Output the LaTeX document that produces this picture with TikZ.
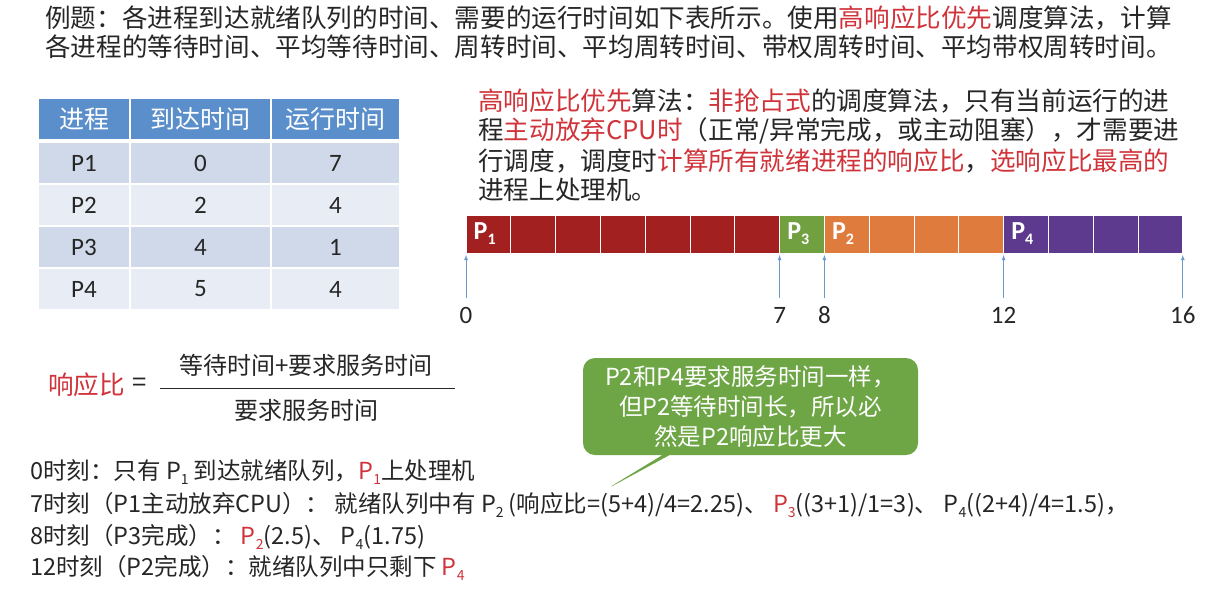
\documentclass[tikz,border=0pt]{standalone}
\usepackage{fontspec}
\setmainfont{Noto Sans CJK SC}
\newfontfamily\latf{Carlito}
\usetikzlibrary{shapes.callouts}
\definecolor{tx}{HTML}{262626}
\definecolor{rd}{HTML}{D0343A}
\definecolor{hd}{HTML}{5B8FCB}
\definecolor{r1}{HTML}{CFD9EA}
\definecolor{r2}{HTML}{E8EDF5}
\definecolor{cp1}{HTML}{A32020}
\definecolor{cp3}{HTML}{70A040}
\definecolor{cp2}{HTML}{E07B3E}
\definecolor{cp4}{HTML}{5E3A8E}
\definecolor{gr}{HTML}{6EA646}
\definecolor{ar}{HTML}{6A9AC8}
\newcommand{\pidx}[1]{\raisebox{-0.35ex}{\fontsize{14}{14}\selectfont #1}}
\newcommand{\gidx}[1]{\raisebox{-0.4ex}{\fontsize{16}{16}\selectfont #1}}
\begin{document}
\begin{tikzpicture}[x=1pt,y=-1pt,
  txt/.style={anchor=west,inner sep=0,text=tx,font=\fontsize{25.6}{30}\selectfont},
  sm/.style={anchor=west,inner sep=0,text=tx,font=\fontsize{23.5}{26}\selectfont},
  cell/.style={draw=white,line width=1.5pt,minimum height=42pt,inner sep=0,text=tx,font=\latf\fontsize{25}{25}\selectfont},
  gc/.style={draw=white,line width=1pt,minimum width=44.8pt,minimum height=38pt,inner sep=0},
  tick/.style={draw=ar,line width=0.8pt,-latex},
  num/.style={inner sep=0,text=tx,font=\latf\fontsize{25}{25}\selectfont}]
\useasboundingbox (0,0) rectangle (1218,592);
\fill[white] (0,0) rectangle (1218,592);
% title
\node[txt] (t1) at (45,18) {例题：各进程到达就绪队列的时间、需要的运行时间如下表所示。使用\textcolor{rd}{高响应比优先}调度算法，计算};
\node[txt] (t2) at (45,47) {各进程的等待时间、平均等待时间、周转时间、平均周转时间、带权周转时间、平均带权周转时间。};
% table
\foreach \r/\a/\b/\c/\col in {0/进程/到达时间/运行时间/hd,1/P1/0/7/r1,2/P2/2/4/r2,3/P3/4/1/r1,4/P4/5/4/r2}{
  \pgfmathsetmacro\yy{100+\r*42+21}
  \ifnum\r=0
   \node[cell,fill=hd,minimum width=92pt,text=white,font=\fontsize{25}{25}\selectfont] (h\r a) at (84,\yy-2) {\a};
   \node[cell,fill=hd,minimum width=141pt,text=white,font=\fontsize{25}{25}\selectfont] (h\r b) at (200.5,\yy-2) {\b};
   \node[cell,fill=hd,minimum width=129pt,text=white,font=\fontsize{25}{25}\selectfont] (h\r c) at (335.5,\yy-2) {\c};
  \else
   \node[cell,fill=\col,minimum width=92pt] (h\r a) at (84,\yy) {\a};
   \node[cell,fill=\col,minimum width=141pt] (h\r b) at (200.5,\yy) {\b};
   \node[cell,fill=\col,minimum width=129pt] (h\r c) at (335.5,\yy) {\c};
  \fi
}
% right paragraph
\node[txt] (p1) at (478,101) {\textcolor{rd}{高响应比优先}算法：\textcolor{rd}{非抢占式}的调度算法，只有当前运行的进};
\node[txt] (p2) at (478,131) {程\textcolor{rd}{主动放弃CPU时}（正常/异常完成，或主动阻塞），才需要进};
\node[txt] (p3) at (478,161) {行调度，调度时\textcolor{rd}{计算所有就绪进程的响应比}，\textcolor{rd}{选响应比最高的}};
\node[txt] (p4) at (478,190) {进程上处理机。};
% gantt
\foreach \i in {0,...,15}{
  \pgfmathsetmacro\xx{466+\i*44.8+22.4}
  \ifnum\i<7 \def\cc{cp1}\else\ifnum\i<8 \def\cc{cp3}\else\ifnum\i<12 \def\cc{cp2}\else\def\cc{cp4}\fi\fi\fi
  \node[gc,fill=\cc] (g\i) at (\xx,234) {};
}
\foreach \i/\n in {0/1,7/3,8/2,12/4}{
  \node[inner sep=0,text=white,font=\latf\bfseries\fontsize{26}{26}\selectfont,anchor=west] at ([xshift=8pt]g\i.west) {P\gidx{\n}};
}
\foreach \t/\x in {0/466,7/779.6,8/824.4,12/1003.6,16/1182.8}{
  \coordinate (b\t) at (\x,255);
  \node[num] (n\t) at (\x,315) {\t};
  \draw[tick] (\x,298) -- (b\t);
}
% formula
\node[txt,text=rd] (rb) at (48,385) {响应比};
\node[txt] (eq) at (132,385) {=};
\node[inner sep=0,text=tx,font=\fontsize{24}{24}\selectfont] (num) at (306,365) {等待时间+要求服务时间};
\node[inner sep=0,text=tx,font=\fontsize{24}{24}\selectfont] (den) at (306,410) {要求服务时间};
\draw[tx,line width=0.8pt] (160,388) -- (455,388);
% callout
\node[rectangle callout,rounded corners=12pt,fill=gr,minimum width=335pt,minimum height=97pt,inner sep=0,
  callout absolute pointer={(605,490)},text=white,align=center,font=\fontsize{23.5}{30}\selectfont] (co) at (750.5,406.5)
  {P2和P4要求服务时间一样，\\但P2等待时间长，所以必\\然是P2响应比更大};
% bottom
\node[sm] (l1) at (30,472) {0时刻：只有 P\pidx{1} 到达就绪队列，\textcolor{rd}{P\pidx{1}}上处理机};
\node[sm] (l2) at (30,505) {7时刻（P1主动放弃CPU）： 就绪队列中有 P\pidx{2} (响应比=(5+4)/4=2.25)、 \textcolor{rd}{P\pidx{3}}((3+1)/1=3)、 P\pidx{4}((2+4)/4=1.5)，};
\node[sm] (l3) at (30,537) {8时刻（P3完成）： \textcolor{rd}{P\pidx{2}}(2.5)、 P\pidx{4}(1.75)};
\node[sm] (l4) at (30,568) {12时刻（P2完成）：就绪队列中只剩下 \textcolor{rd}{P\pidx{4}}};
\end{tikzpicture}
\end{document}
